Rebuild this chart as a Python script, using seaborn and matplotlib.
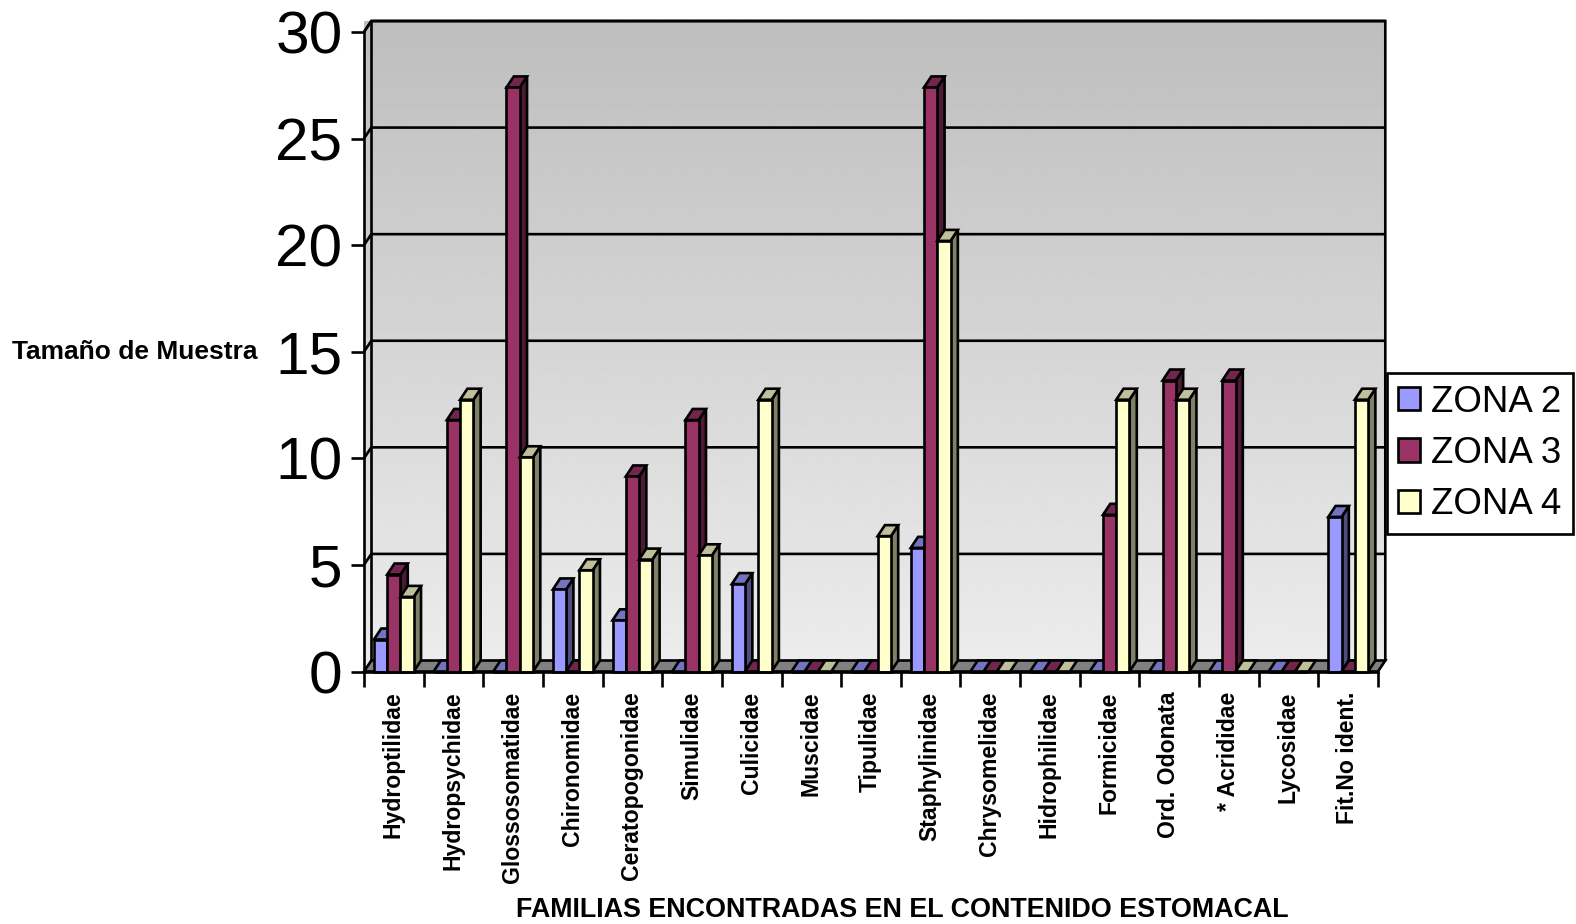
import numpy as np
import pandas as pd
import matplotlib
matplotlib.use("Agg")
import matplotlib.pyplot as plt
from matplotlib.colors import to_rgb
from matplotlib.patches import Polygon
from matplotlib.ticker import FixedLocator, NullFormatter
import seaborn as sns

# Stomach-content sample size per family and zone
families = ["Hydroptilidae", "Hydropsychidae", "Glossosomatidae", "Chironomidae",
            "Ceratopogonidae", "Simulidae", "Culicidae", "Muscidae", "Tipulidae",
            "Staphylinidae", "Chrysomelidae", "Hidrophilidae", "Formicidae",
            "Ord. Odonata", "* Acrididae", "Lycosidae", "Fit.No ident."]
zona_2 = [1.5, 0, 0, 3.85, 2.4, 0, 4.1, 0, 0, 5.8, 0, 0, 0, 0, 0, 0, 7.25]
zona_3 = [4.55, 11.8, 27.4, 0, 9.15, 11.8, 0, 0, 0, 27.4, 0, 0, 7.35, 13.65, 13.65, 0, 0]
zona_4 = [3.5, 12.75, 10.05, 4.75, 5.25, 5.45, 12.75, 0, 6.35, 20.2, 0, 0, 12.75, 12.75, 0, 0, 12.75]
zones = ["ZONA 2", "ZONA 3", "ZONA 4"]
zone_colors = ["#9999FF", "#993366", "#FFFFCC"]
y_ticks = [0, 5, 10, 15, 20, 25, 30]

W, H = 1576, 924
AX_L, AX_R, AX_T, AX_B = 364, 1378, 32, 671.5
LW = 1.9

sns.set_style("white")
plt.rcParams["font.family"] = ["Liberation Sans", "DejaVu Sans"]
plt.rcParams["text.color"] = "black"
plt.rcParams["axes.labelcolor"] = "black"
plt.rcParams["xtick.labelcolor"] = "black"
plt.rcParams["ytick.labelcolor"] = "black"

fig = plt.figure(figsize=(W / 100, H / 100), dpi=100, facecolor="white")
ax = fig.add_axes([AX_L / W, 1 - AX_B / H, (AX_R - AX_L) / W, (AX_B - AX_T) / H])
ax.set_facecolor("none")

df = pd.DataFrame({
    "familia": np.tile(families, 3),
    "zona": np.repeat(zones, len(families)),
    "valor": zona_2 + zona_3 + zona_4,
})
sns.barplot(data=df, x="familia", y="valor", hue="zona", hue_order=zones,
            palette=zone_colors, saturation=1, width=0.667, gap=0,
            edgecolor="black", linewidth=LW, ax=ax, zorder=5)

x0, x1 = -0.5, len(families) - 0.5
y0, y1 = 0, 30
ax.set_xlim(x0, x1)
ax.set_ylim(y0, y1)

# Oblique depth of the pseudo-3D box, in data units
dx = 7.3 / ((AX_R - AX_L) / len(families))
dy = 11.0 / ((AX_B - AX_T) / 30)

# Back and left walls share one vertical gray ramp
ramp = np.linspace(0.745, 0.925, 256)[:, None]
wall_kw = dict(cmap="gray", vmin=0, vmax=1, aspect="auto", origin="upper",
               interpolation="bilinear", zorder=0, clip_on=False)
ax.imshow(ramp, extent=(x0 + dx, x1 + dx, y0 + dy, y1 + dy), **wall_kw)
left_im = ax.imshow(ramp, extent=(x0, x0 + dx, y0, y1 + dy), **wall_kw)
left_shape = Polygon([(x0, y0), (x0 + dx, y0 + dy), (x0 + dx, y1 + dy), (x0, y1)],
                     closed=True, transform=ax.transData)
left_im.set_clip_path(left_shape)
ax.set_xlim(x0, x1)
ax.set_ylim(y0, y1)

# Gridlines run along the back wall and down the left wall to the axis
for t in y_ticks[1:]:
    ax.plot([x0, x0 + dx, x1 + dx], [t, t + dy, t + dy], color="black", lw=LW,
            zorder=1, clip_on=False, solid_capstyle="butt")

# Wall outline
ax.plot([x0 + dx, x0 + dx], [y0 + dy, y1 + dy], color="black", lw=LW, zorder=1, clip_on=False)
ax.plot([x0, x0 + dx, x1 + dx, x1 + dx], [y1, y1 + dy, y1 + dy, y0 + dy], color="black",
        lw=LW, zorder=1, clip_on=False, solid_joinstyle="miter")

# Floor
ax.add_patch(Polygon([(x0, y0), (x1, y0), (x1 + dx, y0 + dy), (x0 + dx, y0 + dy)], closed=True,
                     facecolor="#808080", edgecolor="black", lw=LW, zorder=2, clip_on=False))

# Give each seaborn bar a top and a side face, layered left to right
bars = [b for c in ax.containers for b in c]
bars.sort(key=lambda b: b.get_x())
for i, bar in enumerate(bars):
    left, right, top = bar.get_x(), bar.get_x() + bar.get_width(), bar.get_height()
    rgb = np.array(to_rgb(bar.get_facecolor()[:3]))
    z = 3 + i * 0.01
    edge = dict(edgecolor="black", lw=LW, zorder=z, clip_on=False, joinstyle="miter")
    if top > 0:
        ax.add_patch(Polygon([(right, 0), (right + dx, dy), (right + dx, top + dy), (right, top)],
                             closed=True, facecolor=rgb * 0.5, **edge))
    ax.add_patch(Polygon([(left, top), (right, top), (right + dx, top + dy), (left + dx, top + dy)],
                         closed=True, facecolor=rgb * 0.75, **edge))
    bar.set_zorder(z + 0.005)
    bar.set_clip_on(False)
    bar.set_joinstyle("miter")

# Axes: ticks on category boundaries, labels in between
for side in ("top", "right"):
    ax.spines[side].set_visible(False)
for side in ("left", "bottom"):
    ax.spines[side].set_linewidth(LW)
    ax.spines[side].set_color("black")
    ax.spines[side].set_zorder(10)

ax.set_yticks(y_ticks)
ax.tick_params(axis="y", length=9.5, width=LW, color="black", left=True, labelsize=43.5, pad=6,
               labelcolor="black")
ax.xaxis.set_major_locator(FixedLocator(np.arange(len(families) + 1) - 0.5))
ax.xaxis.set_major_formatter(NullFormatter())
ax.xaxis.set_minor_locator(FixedLocator(np.arange(len(families)) - 0.01))
ax.set_xticklabels(families, minor=True, rotation=90, fontweight="bold", fontsize=16.6,
                   va="top", ha="center", color="black")
ax.tick_params(axis="x", which="major", length=10.8, width=LW, color="black", bottom=True)
ax.tick_params(axis="x", which="minor", length=0, pad=14.5, bottom=False)

ax.set_xlabel("FAMILIAS ENCONTRADAS EN EL CONTENIDO ESTOMACAL", fontweight="bold",
              fontsize=19.4, va="center", ha="center", color="black")
ax.xaxis.set_label_coords((902 - AX_L) / (AX_R - AX_L), (AX_B - 910) / (AX_B - AX_T))
ax.set_ylabel("Tamaño de Muestra", fontweight="bold", fontsize=19, rotation=0,
              va="center", ha="center", color="black")
ax.yaxis.set_label_coords((135 - AX_L) / (AX_R - AX_L), (AX_B - 352) / (AX_B - AX_T))

# Boxed legend to the right of the plot
handles, labels = ax.get_legend_handles_labels()
leg = ax.legend(handles, labels, loc="center left",
                bbox_to_anchor=(1387 / W, 1 - 453.5 / H), bbox_transform=fig.transFigure,
                frameon=True, fancybox=False, framealpha=1, facecolor="white",
                edgecolor="black", fontsize=26.4, handlelength=0.6, handleheight=0.6,
                handletextpad=0.3, labelspacing=0.45, borderpad=0.31, borderaxespad=0,
                title=None)
leg.get_frame().set_linewidth(LW)
leg.set_zorder(20)
for txt in leg.get_texts():
    txt.set_color("black")

fig.savefig("out.png", dpi=100)
